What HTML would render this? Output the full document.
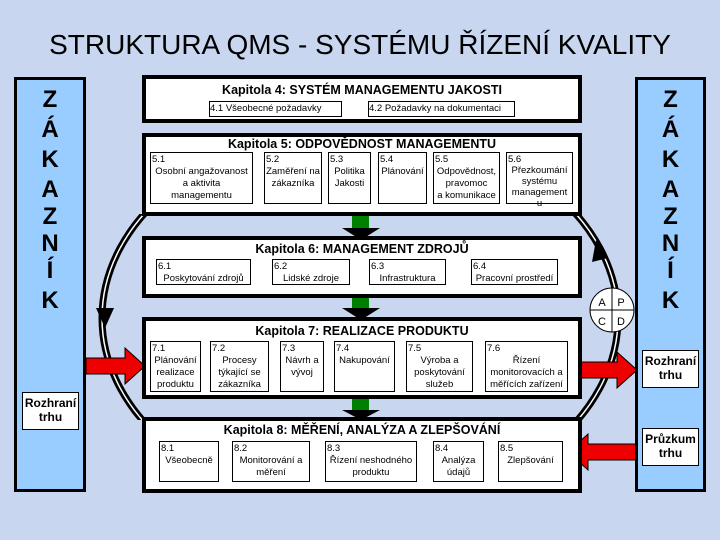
<!DOCTYPE html>
<html><head><meta charset="utf-8"><style>
*{margin:0;padding:0;box-sizing:border-box}
body{width:720px;height:540px;overflow:hidden;background:#c9d6ef;position:relative;font-family:"Liberation Sans",sans-serif}
.a{position:absolute}
.big{position:absolute;background:#fff;border:4px solid #000}
.sm{position:absolute;background:#fff;border:1px solid #000;font-size:9.5px;line-height:12px;text-align:center;padding-top:1px}
.sm b{font-weight:normal;display:block;text-align:left;padding-left:1px}
.h{position:absolute;left:0;right:0;text-align:center;font-weight:bold;font-size:12.5px}
.panel{position:absolute;background:#99ccff;border:3px solid #000;top:77px;height:415px}
.let{position:absolute;left:0;right:0;text-align:center;font-weight:bold;font-size:24px;line-height:26px}
.rb{position:absolute;background:#fff;border:1px solid #000;font-weight:bold;font-size:12px;text-align:center;line-height:14px;padding-top:3px}
</style></head><body>
<div class="a" style="left:0;top:29px;width:720px;text-align:center;font-size:28px;white-space:nowrap">STRUKTURA QMS - SYSTÉMU ŘÍZENÍ KVALITY</div>

<svg class="a" style="left:0;top:0" width="720" height="540">
<defs><clipPath id="c"><rect x="0" y="214" width="720" height="206"/></clipPath></defs>
<g clip-path="url(#c)">
<ellipse cx="360" cy="318" rx="258" ry="190" fill="none" stroke="#000" stroke-width="7"/>
<ellipse cx="360" cy="318" rx="258" ry="190" fill="none" stroke="#fff" stroke-width="1.5"/>
</g>
<polygon points="96,308 114,308 105,328" fill="#000"/>
<polygon points="592,262 608,258 596,240" fill="#000"/>
<rect x="352" y="214" width="17" height="14" fill="#008000"/><polygon points="342,228 380,228 361,240" fill="#000"/>
<rect x="352" y="294" width="17" height="14" fill="#008000"/><polygon points="342,308 380,308 361,320" fill="#000"/>
<rect x="352" y="396" width="17" height="14" fill="#008000"/><polygon points="342,410 380,410 361,420" fill="#000"/>
<circle cx="612" cy="310" r="22" fill="#fff" stroke="#000"/>
<line x1="590" y1="310" x2="634" y2="310" stroke="#000"/><line x1="612" y1="288" x2="612" y2="332" stroke="#000"/>
<text x="602" y="306" font-size="11" text-anchor="middle" font-family="Liberation Sans">A</text>
<text x="621" y="306" font-size="11" text-anchor="middle" font-family="Liberation Sans">P</text>
<text x="602" y="325" font-size="11" text-anchor="middle" font-family="Liberation Sans">C</text>
<text x="621" y="325" font-size="11" text-anchor="middle" font-family="Liberation Sans">D</text>
<polygon points="86,358 125,358 125,348 145,366 125,384 125,374 86,374" fill="#e00" stroke="#000"/>
<polygon points="580,362 617,362 617,352 637,370 617,388 617,378 580,378" fill="#e00" stroke="#000"/>
<polygon points="642,444 588,444 588,434 568,452 588,470 588,460 642,460" fill="#e00" stroke="#000"/>
</svg>

<div class="panel" style="left:14px;width:72px">
<div class="let" style="top:7px">Z</div><div class="let" style="top:37px">Á</div><div class="let" style="top:67px">K</div><div class="let" style="top:97px">A</div><div class="let" style="top:124px">Z</div><div class="let" style="top:151px">N</div><div class="let" style="top:178px">Í</div><div class="let" style="top:208px">K</div>
<div class="rb" style="left:5px;top:312px;width:57px;height:38px">Rozhraní<br>trhu</div>
</div>
<div class="panel" style="left:635px;width:71px">
<div class="let" style="top:7px">Z</div><div class="let" style="top:37px">Á</div><div class="let" style="top:67px">K</div><div class="let" style="top:97px">A</div><div class="let" style="top:124px">Z</div><div class="let" style="top:151px">N</div><div class="let" style="top:178px">Í</div><div class="let" style="top:208px">K</div>
<div class="rb" style="left:4px;top:270px;width:57px;height:38px">Rozhraní<br>trhu</div>
<div class="rb" style="left:4px;top:348px;width:57px;height:38px">Průzkum<br>trhu</div>
</div>

<div class="big" style="left:142px;top:75px;width:440px;height:48px"><div class="h" style="top:4px">Kapitola 4: SYSTÉM MANAGEMENTU JAKOSTI</div></div>
<div class="sm" style="left:209px;top:101px;width:133px;height:16px;text-align:left">4.1 Všeobecné požadavky</div>
<div class="sm" style="left:368px;top:101px;width:147px;height:16px;text-align:left">4.2 Požadavky na dokumentaci</div>

<div class="big" style="left:142px;top:133px;width:440px;height:83px"><div class="h" style="top:0px">Kapitola 5: ODPOVĚDNOST MANAGEMENTU</div></div>
<div class="sm" style="left:150px;top:152px;width:103px;height:52px"><b>5.1</b>Osobní angažovanost<br>a aktivita<br>managementu</div>
<div class="sm" style="left:264px;top:152px;width:58px;height:52px"><b>5.2</b>Zaměření na<br>zákazníka</div>
<div class="sm" style="left:328px;top:152px;width:43px;height:52px"><b>5.3</b>Politika<br>Jakosti</div>
<div class="sm" style="left:378px;top:152px;width:49px;height:52px"><b>5.4</b>Plánování</div>
<div class="sm" style="left:433px;top:152px;width:67px;height:52px"><b>5.5</b>Odpovědnost,<br>pravomoc<br>a komunikace</div>
<div class="sm" style="left:506px;top:152px;width:67px;height:52px;line-height:11px"><b>5.6</b>Přezkoumání<br>systému<br>management<br>u</div>

<div class="big" style="left:142px;top:236px;width:440px;height:62px"><div class="h" style="top:2px">Kapitola 6: MANAGEMENT ZDROJŮ</div></div>
<div class="sm" style="left:156px;top:259px;width:95px;height:26px"><b>6.1</b>Poskytování zdrojů</div>
<div class="sm" style="left:272px;top:259px;width:78px;height:26px"><b>6.2</b>Lidské zdroje</div>
<div class="sm" style="left:369px;top:259px;width:77px;height:26px"><b>6.3</b>Infrastruktura</div>
<div class="sm" style="left:471px;top:259px;width:87px;height:26px"><b>6.4</b>Pracovní prostředí</div>

<div class="big" style="left:142px;top:317px;width:440px;height:82px"><div class="h" style="top:3px">Kapitola 7: REALIZACE PRODUKTU</div></div>
<div class="sm" style="left:150px;top:341px;width:51px;height:51px"><b>7.1</b>Plánování<br>realizace<br>produktu</div>
<div class="sm" style="left:210px;top:341px;width:59px;height:51px"><b>7.2</b>Procesy<br>týkající se<br>zákazníka</div>
<div class="sm" style="left:280px;top:341px;width:44px;height:51px"><b>7.3</b>Návrh a<br>vývoj</div>
<div class="sm" style="left:334px;top:341px;width:61px;height:51px"><b>7.4</b>Nakupování</div>
<div class="sm" style="left:406px;top:341px;width:67px;height:51px"><b>7.5</b>Výroba a<br>poskytování<br>služeb</div>
<div class="sm" style="left:485px;top:341px;width:83px;height:51px"><b>7.6</b>Řízení<br>monitorovacích a<br>měřících zařízení</div>

<div class="big" style="left:142px;top:417px;width:440px;height:76px"><div class="h" style="top:2px">Kapitola 8: MĚŘENÍ, ANALÝZA A ZLEPŠOVÁNÍ</div></div>
<div class="sm" style="left:159px;top:441px;width:60px;height:41px"><b>8.1</b>Všeobecně</div>
<div class="sm" style="left:232px;top:441px;width:78px;height:41px"><b>8.2</b>Monitorování a<br>měření</div>
<div class="sm" style="left:325px;top:441px;width:92px;height:41px"><b>8.3</b>Řízení neshodného<br>produktu</div>
<div class="sm" style="left:433px;top:441px;width:51px;height:41px"><b>8.4</b>Analýza<br>údajů</div>
<div class="sm" style="left:498px;top:441px;width:65px;height:41px"><b>8.5</b>Zlepšování</div>
</body></html>
